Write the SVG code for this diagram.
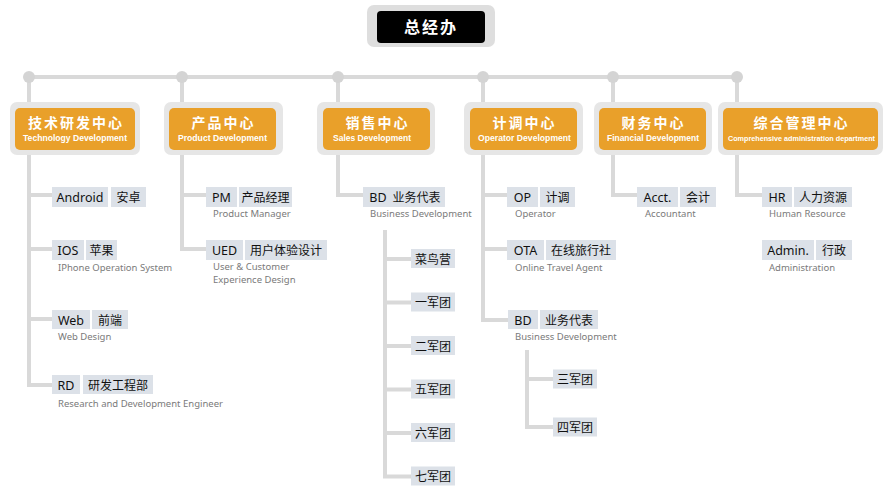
<svg xmlns="http://www.w3.org/2000/svg" width="890" height="489" viewBox="0 0 890 489">
<style>
.ln{stroke:#d9d9d9;stroke-width:4;fill:none}
.dot{fill:#d4d4d4}
.co{fill:#e6e6e6}
.ci{fill:#e9a02a}
.ct{font-family:"Noto Sans CJK SC",sans-serif;font-weight:bold;font-size:14px;fill:#fff;letter-spacing:2px;text-anchor:middle}
.cs{font-family:"Liberation Sans","Noto Sans",sans-serif;font-weight:bold;font-size:9px;fill:#fff;text-anchor:middle}
.bx{fill:#dce1e8}
.bt{font-family:"Noto Sans","Noto Sans CJK SC",sans-serif;font-size:12.5px;fill:#111;text-anchor:middle}
.bc{font-family:"Noto Sans CJK SC",sans-serif;font-size:12px;fill:#111;text-anchor:middle}
.sb{font-family:"Noto Sans","Liberation Sans",sans-serif;font-size:9.5px;fill:#7a7a7a}
</style>
<rect width="890" height="489" fill="#fff"/>
<g id="connectors">
<path class="ln" d="M29 77H737"/>
<path class="ln" d="M29 77V385H52"/>
<path class="ln" d="M29 195H52M29 249H52M29 319H52"/>
<path class="ln" d="M182 77V249H206M182 195H206"/>
<path class="ln" d="M338 77V195H363"/>
<path class="ln" d="M385 230V476.5H411M385 259H411M385 302.5H411M385 346H411M385 389.5H411M385 433H411"/>
<path class="ln" d="M483 77V320H508M483 195H507M483 249H507"/>
<path class="ln" d="M527 350V427H553M527 379H553"/>
<path class="ln" d="M613 77V195H637"/>
<path class="ln" d="M737 77V195H762"/>
<circle class="dot" cx="29" cy="77" r="6"/>
<circle class="dot" cx="182" cy="77" r="6"/>
<circle class="dot" cx="338" cy="77" r="6"/>
<circle class="dot" cx="483" cy="77" r="6"/>
<circle class="dot" cx="613" cy="77" r="6"/>
<circle class="dot" cx="737" cy="77" r="6"/>
</g>
<g id="gm">
<rect x="367" y="5" width="128" height="42" rx="7" fill="#dedede"/>
<rect x="377" y="11" width="108" height="32" rx="4" fill="#000"/>
<text x="431" y="33" font-family="Noto Sans CJK SC,sans-serif" font-weight="bold" font-size="16" fill="#fff" text-anchor="middle" letter-spacing="2">总经办</text>
</g>
<g id="c1">
<rect class="co" x="10" y="102" width="130" height="53" rx="7"/>
<rect class="ci" x="15" y="108" width="120" height="42" rx="5"/>
<text class="ct" x="76" y="128">技术研发中心</text>
<text class="cs" x="75" y="141" textLength="104" lengthAdjust="spacingAndGlyphs">Technology Development</text>
</g>
<g id="c2">
<rect class="co" x="164" y="102" width="119" height="53" rx="7"/>
<rect class="ci" x="169" y="108" width="107" height="42" rx="5"/>
<text class="ct" x="223.5" y="128">产品中心</text>
<text class="cs" x="222.5" y="141" textLength="89" lengthAdjust="spacingAndGlyphs">Product Development</text>
</g>
<g id="c3">
<rect class="co" x="317" y="102" width="118" height="53" rx="7"/>
<rect class="ci" x="323" y="108" width="107" height="42" rx="5"/>
<text class="ct" x="377.5" y="128">销售中心</text>
<text class="cs" x="372" y="141" textLength="78" lengthAdjust="spacingAndGlyphs">Sales Development</text>
</g>
<g id="c4">
<rect class="co" x="464" y="102" width="119" height="53" rx="7"/>
<rect class="ci" x="470" y="108" width="107" height="42" rx="5"/>
<text class="ct" x="524.5" y="128">计调中心</text>
<text class="cs" x="524.5" y="141" textLength="93" lengthAdjust="spacingAndGlyphs">Operator Development</text>
</g>
<g id="c5">
<rect class="co" x="594" y="102" width="118" height="53" rx="7"/>
<rect class="ci" x="599" y="108" width="107" height="42" rx="5"/>
<text class="ct" x="653.5" y="128">财务中心</text>
<text class="cs" x="653" y="141" textLength="92" lengthAdjust="spacingAndGlyphs">Financial Development</text>
</g>
<g id="c6">
<rect class="co" x="718" y="102" width="165" height="53" rx="7"/>
<rect class="ci" x="723" y="108" width="155" height="42" rx="5"/>
<text class="ct" x="801.5" y="128">综合管理中心</text>
<text class="cs" x="801.5" y="141" style="font-size:8px" textLength="147" lengthAdjust="spacingAndGlyphs">Comprehensive administration department</text>
</g>
<g id="android">
<rect class="bx" x="52" y="187" width="56" height="20"/><text class="bt" x="80" y="202">Android</text>
<rect class="bx" x="111" y="187" width="35" height="20"/><text class="bc" x="128.5" y="202">安卓</text>
</g>
<g id="ios">
<rect class="bx" x="52" y="240" width="32" height="20"/><text class="bt" x="68" y="255">IOS</text>
<rect class="bx" x="86" y="240" width="31" height="20"/><text class="bc" x="101.5" y="255">苹果</text>
<text class="sb" x="58" y="271">IPhone Operation System</text>
</g>
<g id="web">
<rect class="bx" x="52" y="310" width="38" height="19"/><text class="bt" x="71" y="324.5">Web</text>
<rect class="bx" x="92" y="310" width="36" height="19"/><text class="bc" x="110" y="324.5">前端</text>
<text class="sb" x="58" y="340">Web Design</text>
</g>
<g id="rd">
<rect class="bx" x="52" y="375" width="28" height="19"/><text class="bt" x="66" y="389.5">RD</text>
<rect class="bx" x="83" y="375" width="70" height="19"/><text class="bc" x="118" y="389.5">研发工程部</text>
<text class="sb" x="58" y="407">Research and Development Engineer</text>
</g>
<g id="pm">
<rect class="bx" x="206" y="187" width="31" height="20"/><text class="bt" x="221.5" y="202">PM</text>
<rect class="bx" x="239" y="187" width="53" height="20"/><text class="bc" x="265.5" y="202">产品经理</text>
<text class="sb" x="213" y="217">Product Manager</text>
</g>
<g id="ued">
<rect class="bx" x="206" y="240" width="37" height="20"/><text class="bt" x="224.5" y="255">UED</text>
<rect class="bx" x="245" y="240" width="82" height="20"/><text class="bc" x="286" y="255">用户体验设计</text>
<text class="sb" x="213" y="270">User &amp; Customer</text>
<text class="sb" x="213" y="282.5">Experience Design</text>
</g>
<g id="bd1">
<rect class="bx" x="363" y="187" width="82" height="20"/>
<text class="bt" x="378" y="202">BD</text>
<text class="bc" x="416.5" y="202">业务代表</text>
<text class="sb" x="370" y="217">Business Development</text>
</g>
<g id="s1"><rect class="bx" x="411" y="249" width="44" height="19"/><text class="bc" x="433" y="263.5">菜鸟营</text></g>
<g id="s2"><rect class="bx" x="411" y="292.5" width="44" height="19"/><text class="bc" x="433" y="307">一军团</text></g>
<g id="s3"><rect class="bx" x="411" y="336" width="44" height="19"/><text class="bc" x="433" y="350.5">二军团</text></g>
<g id="s4"><rect class="bx" x="411" y="379.5" width="44" height="19"/><text class="bc" x="433" y="394">五军团</text></g>
<g id="s5"><rect class="bx" x="411" y="423" width="44" height="19"/><text class="bc" x="433" y="437.5">六军团</text></g>
<g id="s6"><rect class="bx" x="411" y="466.5" width="44" height="19"/><text class="bc" x="433" y="481">七军团</text></g>
<g id="op">
<rect class="bx" x="507" y="187" width="31" height="20"/><text class="bt" x="522.5" y="202">OP</text>
<rect class="bx" x="540" y="187" width="35" height="20"/><text class="bc" x="557.5" y="202">计调</text>
<text class="sb" x="515" y="217">Operator</text>
</g>
<g id="ota">
<rect class="bx" x="507" y="240" width="37" height="20"/><text class="bt" x="525.5" y="255">OTA</text>
<rect class="bx" x="546" y="240" width="70" height="20"/><text class="bc" x="581" y="255">在线旅行社</text>
<text class="sb" x="515" y="271">Online Travel Agent</text>
</g>
<g id="bd2">
<rect class="bx" x="508" y="310" width="30" height="19"/><text class="bt" x="523" y="324.5">BD</text>
<rect class="bx" x="540" y="310" width="58" height="19"/><text class="bc" x="569" y="324.5">业务代表</text>
<text class="sb" x="515" y="340">Business Development</text>
</g>
<g id="s7"><rect class="bx" x="553" y="369.5" width="44" height="19"/><text class="bc" x="575" y="384">三军团</text></g>
<g id="s8"><rect class="bx" x="553" y="417.5" width="44" height="19"/><text class="bc" x="575" y="432">四军团</text></g>
<g id="acct">
<rect class="bx" x="637" y="187" width="41" height="20"/><text class="bt" x="657.5" y="202">Acct.</text>
<rect class="bx" x="680" y="187" width="36" height="20"/><text class="bc" x="698" y="202">会计</text>
<text class="sb" x="645" y="217">Accountant</text>
</g>
<g id="hr">
<rect class="bx" x="762" y="187" width="30" height="20"/><text class="bt" x="777" y="202">HR</text>
<rect class="bx" x="794" y="187" width="58" height="20"/><text class="bc" x="823" y="202">人力资源</text>
<text class="sb" x="769" y="217">Human Resource</text>
</g>
<g id="admin">
<rect class="bx" x="762" y="240" width="52" height="20"/><text class="bt" x="788" y="255">Admin.</text>
<rect class="bx" x="816" y="240" width="36" height="20"/><text class="bc" x="834" y="255">行政</text>
<text class="sb" x="769" y="271">Administration</text>
</g>
</svg>
